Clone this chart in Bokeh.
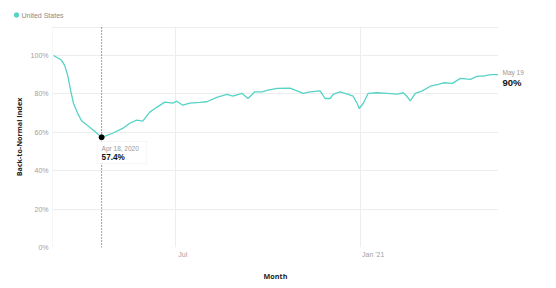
import pandas as pd
from bokeh.plotting import figure
from bokeh.layouts import column, row
from bokeh.core.properties import value
from bokeh.models import (ColumnDataSource, FixedTicker, CustomJSTickFormatter, PrintfTickFormatter,
                          Label, BoxAnnotation, Range1d)
from bokeh.embed import file_html
from bokeh.resources import INLINE

# ---- data ----
dates = ["2020-03-01", "2020-03-05", "2020-03-09", "2020-03-12", "2020-03-15", "2020-03-18",
         "2020-03-21", "2020-03-25", "2020-03-29", "2020-04-04", "2020-04-11", "2020-04-18",
         "2020-04-29", "2020-05-09", "2020-05-16", "2020-05-23", "2020-05-29", "2020-06-05",
         "2020-06-12", "2020-06-20", "2020-06-28", "2020-07-02", "2020-07-08", "2020-07-15",
         "2020-07-25", "2020-08-01", "2020-08-11", "2020-08-21", "2020-08-27", "2020-09-05",
         "2020-09-11", "2020-09-18", "2020-09-25", "2020-10-01", "2020-10-10", "2020-10-23",
         "2020-10-30", "2020-11-05", "2020-11-12", "2020-11-22", "2020-11-27", "2020-12-02",
         "2020-12-05", "2020-12-12", "2020-12-20", "2020-12-25", "2020-12-29", "2020-12-31",
         "2021-01-04", "2021-01-09", "2021-01-18", "2021-01-28", "2021-02-07", "2021-02-13",
         "2021-02-17", "2021-02-20", "2021-02-25", "2021-03-04", "2021-03-12", "2021-03-20",
         "2021-03-25", "2021-04-03", "2021-04-11", "2021-04-21", "2021-04-28", "2021-05-04",
         "2021-05-11", "2021-05-19"]
values = [100.0, 98.8, 97.5, 95.0, 90.0, 82.0,
          75.0, 70.0, 66.0, 63.5, 60.5, 57.4,
          59.5, 62.0, 64.7, 66.3, 65.8, 70.5,
          73.0, 75.7, 75.2, 76.2, 74.1, 75.2,
          75.6, 75.9, 78.2, 79.7, 78.8, 80.3,
          77.6, 81.1, 81.1, 82.0, 82.9, 83.0,
          81.6, 80.3, 81.1, 81.6, 77.6, 77.6,
          79.7, 81.1, 79.7, 78.8, 75.0, 72.4,
          75.0, 80.3, 80.6, 80.3, 79.9, 80.6,
          78.5, 76.4, 80.3, 81.6, 84.0, 85.0,
          85.8, 85.5, 88.1, 87.6, 89.3, 89.3,
          90.0, 90.0]

series_name = "United States"
highlight_date = "2020-04-18"
highlight_value = 57.4
highlight_label = "Apr 18, 2020"
last_label = "May 19"
last_value_label = "90%"

x_tick_dates = ["2020-07-01", "2021-01-01"]
x_tick_labels = ["Jul", "Jan '21"]
y_ticks = [0, 20, 40, 60, 80, 100]

x_start = "2020-02-29"
x_data_end = "2021-05-19"
y_top = 115.1

# ---- styling / layout ----
TEAL = "#56d3c6"
GRID = "#ededed"
TICK_TXT = "#a0a0a0"
FONT = "Liberation Sans"
TITLE_FONT = "Open Sans"
DAY = 86400000.0
W, H = 556, 288
LEG_H = 26                          # legend strip height, px
FRAME_L = 52                        # left border of the chart, px
RIGHT_W = 58                        # strip for the end-value labels, px
BOTTOM = 41                         # bottom border, px
label_shift_days = [7, 13]          # centres of left-aligned month labels

def ms(d):
    return float(pd.Timestamp(d).value // 10**6)

x0, x1 = ms(x_start), ms(x_data_end)

def blank(fig):
    fig.outline_line_color = None
    fig.background_fill_color = "white"
    fig.border_fill_color = "white"
    fig.xgrid.visible = False
    fig.ygrid.visible = False

# ---- legend strip ----
leg = figure(width=W, height=LEG_H, x_axis_type=None, y_axis_type=None, output_backend="svg",
             toolbar_location=None, min_border=0, x_range=Range1d(0, W), y_range=Range1d(0, LEG_H))
blank(leg)
leg.scatter(x=[16], y=[LEG_H - 14.5], size=4.5, color=TEAL)
leg.text(x=[21], y=[LEG_H - 14.5], text=[series_name], text_font=value(FONT),
         text_font_size="7px", text_color="#8a8a8a", text_baseline="middle", text_align="left")

# ---- main chart ----
src = ColumnDataSource(dict(x=[ms(d) for d in dates], y=values))

p = figure(width=W - RIGHT_W, height=H - LEG_H, x_axis_type="datetime", output_backend="svg",
           toolbar_location=None, min_border_left=FRAME_L, min_border_right=0,
           min_border_top=0, min_border_bottom=BOTTOM,
           x_range=Range1d(x0, x1), y_range=Range1d(0, y_top))
p.background_fill_color = "white"
p.border_fill_color = "white"
p.outline_line_color = None

p.line("x", "y", source=src, line_color=TEAL, line_width=1.3)

# highlight
hx = ms(highlight_date)
p.segment(x0=[hx], y0=[0], x1=[hx], y1=[y_top], line_color="#444444",
          line_width=1, line_dash="1 2")
p.add_layout(BoxAnnotation(left=hx - 4.4 * DAY, right=hx + 45 * DAY,
                           top=highlight_value - 2.2, bottom=highlight_value - 13.7,
                           fill_color="white", fill_alpha=1.0, line_color="#e2e2e2",
                           line_width=1, level="overlay"))
p.scatter([hx], [highlight_value], size=5, color="black", level="overlay")

def label(x, y, text, size, color, bold=False, xo=0.0, yo=0.0, align="left"):
    lab = Label(x=x, y=y, text=text, x_offset=xo, y_offset=yo,
                text_font=FONT, text_font_size=size, text_color=color,
                text_font_style="bold" if bold else "normal",
                text_baseline="middle", text_align=align, level="overlay")
    p.add_layout(lab)

label(hx, highlight_value, highlight_label, "6.5px", "#999999", yo=-11.6)
label(hx, highlight_value, f"{highlight_value}%", "8.2px", "#111111", bold=True, yo=-19.8)

# axes
x_label_pos = [ms(d) + s * DAY for d, s in zip(x_tick_dates, label_shift_days)]
p.xaxis.ticker = FixedTicker(ticks=x_label_pos)
p.xaxis.formatter = CustomJSTickFormatter(args=dict(tick_vals=x_label_pos, tick_names=x_tick_labels), code="""
    for (let i = 0; i < tick_vals.length; i++) {
        if (Math.abs(tick_vals[i] - tick) < 1) return tick_names[i];
    }
    return "";
""")
p.yaxis.ticker = FixedTicker(ticks=y_ticks)
p.yaxis.formatter = PrintfTickFormatter(format="%d%%")

for ax in (p.xaxis, p.yaxis):
    ax.axis_line_color = None
    ax.major_tick_line_color = None
    ax.minor_tick_line_color = None
    ax.major_tick_out = 0
    ax.major_tick_in = 0
    ax.minor_tick_out = 0
    ax.minor_tick_in = 0
    ax.major_label_text_font = FONT
    ax.major_label_text_font_size = "7px"
    ax.major_label_text_color = TICK_TXT
    ax.axis_label_text_font = TITLE_FONT
    ax.axis_label_text_font_size = "7.2px"
    ax.axis_label_text_font_style = "bold"
    ax.axis_label_text_color = "#222222"

p.xaxis.axis_label = "Month"
p.yaxis.axis_label = "Back-to-Normal Index"
p.xaxis.major_label_standoff = 3
p.xaxis.axis_label_standoff = 10
p.yaxis.major_label_standoff = 4
p.yaxis.axis_label_standoff = 4

# grids: month lines plus the left edge; value lines plus the top edge
p.xgrid.ticker = FixedTicker(ticks=[x0 + 0.2 * DAY] + [ms(d) for d in x_tick_dates])
p.ygrid.ticker = FixedTicker(ticks=y_ticks + [y_top - 0.3])
p.xgrid.grid_line_color = GRID
p.ygrid.grid_line_color = GRID

# ---- right strip with the latest value, sharing the chart's y scale ----
rs = figure(width=RIGHT_W, height=H - LEG_H, x_axis_type=None, y_axis_type=None,
            output_backend="svg", toolbar_location=None, min_border_left=0, min_border_right=0,
            min_border_top=0, min_border_bottom=BOTTOM,
            x_range=Range1d(0, RIGHT_W), y_range=p.y_range)
blank(rs)
rs.text(x=[4], y=[values[-1]], text=[last_label], y_offset=-2.5, text_font=value(FONT),
        text_font_size="6.5px", text_color="#999999", text_baseline="middle", text_align="left")
rs.text(x=[4], y=[values[-1]], text=[last_value_label], y_offset=8, text_font=value(FONT),
        text_font_size="9.5px", text_font_style="bold", text_color="#111111",
        text_baseline="middle", text_align="left")

open("out.html", "w").write(file_html(column(leg, row(p, rs, spacing=0), spacing=0), INLINE))
